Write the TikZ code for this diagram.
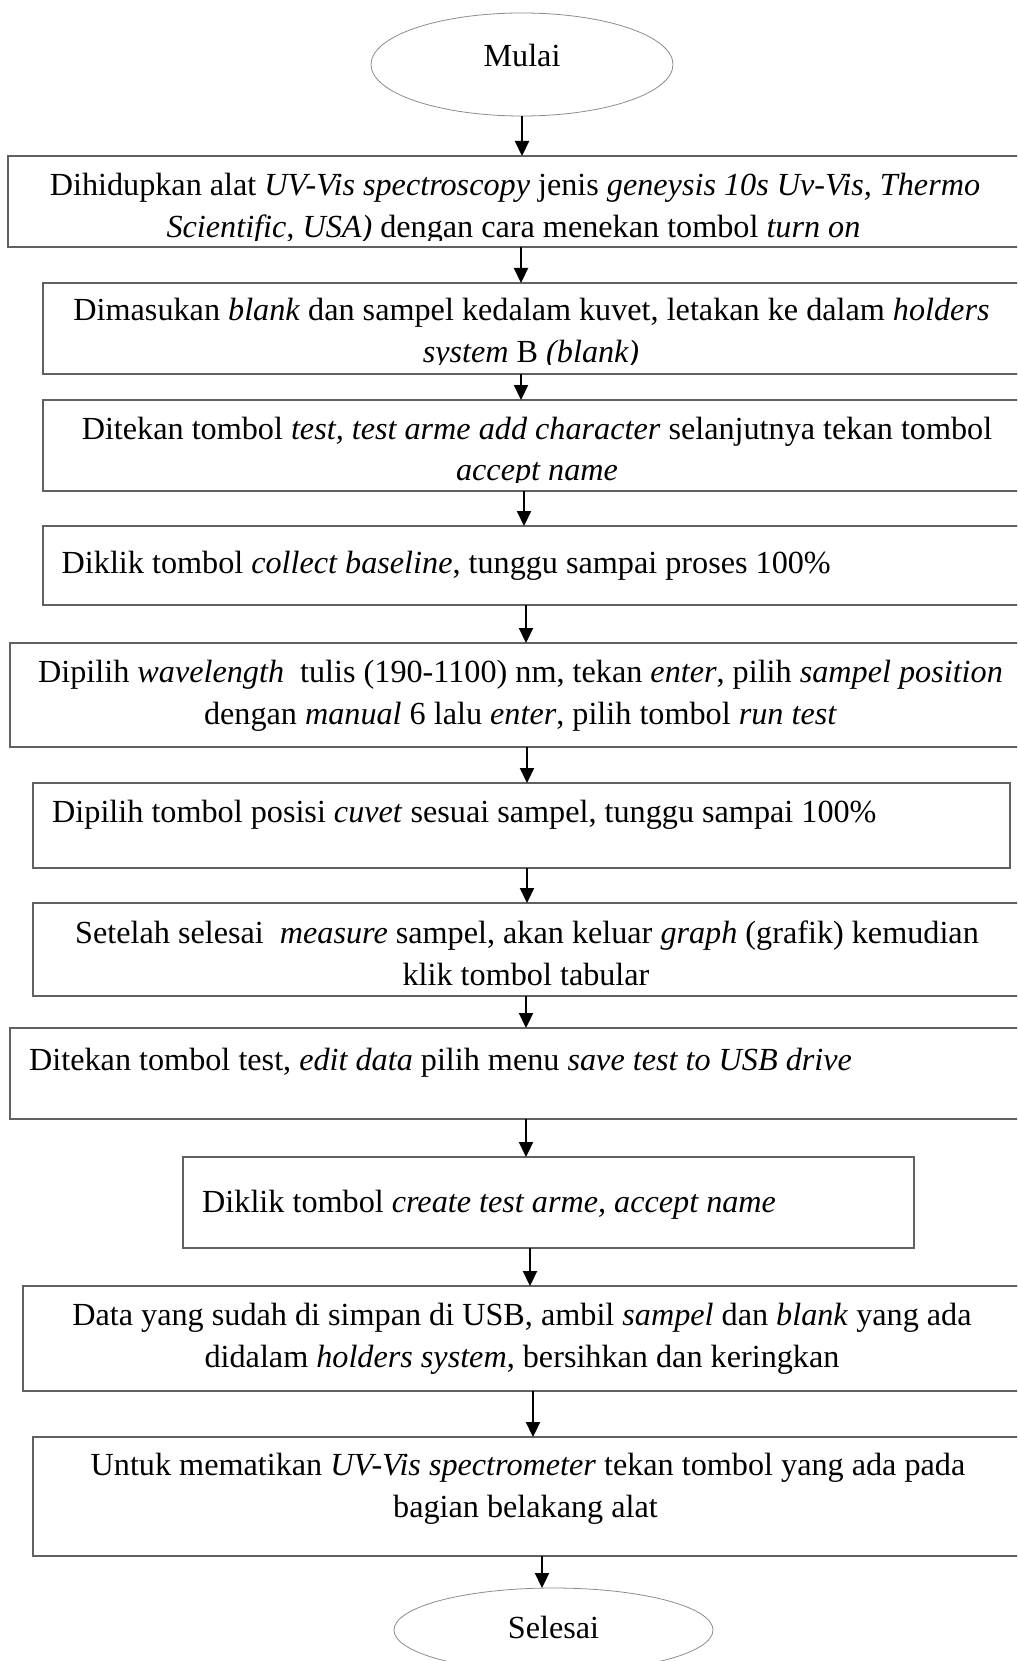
\documentclass[tikz,border=0pt]{standalone}
\usepackage{fontspec}
\setmainfont{Liberation Serif}
\usetikzlibrary{shapes.geometric,arrows.meta}

\tikzset{
  stepbox/.style={draw=black!62, line width=1.1pt, rectangle, inner sep=0pt,
    outer sep=0pt, anchor=north west},
  terminal/.style={draw=black!45, line width=0.8pt, ellipse, fill=white,
    inner sep=0pt, outer sep=0pt, font=\fontsize{32.2}{42}\selectfont},
  txt/.style={inner sep=0pt, anchor=base, font=\fontsize{32.2}{42}\selectfont},
  txtl/.style={txt, anchor=base west},
  flow/.style={draw=black, line width=2.2pt,
    -{Triangle[length=15pt,width=14pt]}},
}

\begin{document}
\begin{tikzpicture}[x=1pt,y=-1pt]
\useasboundingbox (0,0) rectangle (1017,1661);
\clip (0,0) rectangle (1017,1661);

% start / end terminals
\node[terminal, minimum width=302pt, minimum height=103pt,
      text height=25pt, text depth=20pt] (start) at (522,64.5) {Mulai};
\node[terminal, minimum width=319pt, minimum height=84pt,
      text height=25pt, text depth=9pt] (stop) at (553.5,1630) {Selesai};

% process boxes
\node[stepbox, minimum width=1022pt, minimum height=91pt]  (b1)  at (8,156) {};
\node[stepbox, minimum width=987pt,  minimum height=91pt]  (b2)  at (43,283) {};
\node[stepbox, minimum width=987pt,  minimum height=91pt]  (b3)  at (43,400) {};
\node[stepbox, minimum width=987pt,  minimum height=79pt]  (b4)  at (43,526) {};
\node[stepbox, minimum width=1020pt, minimum height=104pt] (b5)  at (10,643) {};
\node[stepbox, minimum width=977pt,  minimum height=85pt]  (b6)  at (33,783) {};
\node[stepbox, minimum width=997pt,  minimum height=93pt]  (b7)  at (33,903) {};
\node[stepbox, minimum width=1020pt, minimum height=91pt]  (b8)  at (10,1028) {};
\node[stepbox, minimum width=731pt,  minimum height=91pt]  (b9)  at (183,1157) {};
\node[stepbox, minimum width=1007pt, minimum height=105pt] (b10) at (23,1286) {};
\node[stepbox, minimum width=997pt,  minimum height=119pt] (b11) at (33,1437) {};

% box texts; the first three boxes cut their text off just below the last line
\begin{scope}
  \clip (b1.north west) rectangle ([yshift=6.5pt]b1.south east);
  \node[txt] (t1a) at (515,195.5) {Dihidupkan alat \textit{UV-Vis spectroscopy} jenis \textit{geneysis 10s Uv-Vis, Thermo}};
  \node[txt] (t1b) at (513.5,238) {\textit{Scientific, USA)} dengan cara menekan tombol \textit{turn on}};
\end{scope}
\begin{scope}
  \clip (b2.north west) rectangle ([yshift=9.5pt]b2.south east);
  \node[txt] (t2a) at (531.5,320) {Dimasukan \textit{blank} dan sampel kedalam kuvet, letakan ke dalam \textit{holders}};
  \node[txt] (t2b) at (531,362) {\textit{system} B \textit{(blank)}};
\end{scope}
\begin{scope}
  \clip (b3.north west) rectangle ([yshift=8.5pt]b3.south east);
  \node[txt] (t3a) at (537,439) {Ditekan tombol \textit{test, test arme add character} selanjutnya tekan tombol};
  \node[txt] (t3b) at (537,480) {\textit{accept name}};
\end{scope}
\node[txtl] (t4) at (61.5,573) {Diklik tombol \textit{collect baseline}, tunggu sampai proses 100\%};
\node[txt] (t5a) at (520.5,682) {Dipilih \textit{wavelength}\ \ tulis (190-1100) nm, tekan \textit{enter}, pilih \textit{sampel position}};
\node[txt] (t5b) at (520.5,724) {dengan \textit{manual} 6 lalu \textit{enter}, pilih tombol \textit{run test}};
\node[txtl] (t6) at (52,822) {Dipilih tombol posisi \textit{cuvet} sesuai sampel, tunggu sampai 100\%};
\node[txt] (t7a) at (527,943) {Setelah selesai\ \ \textit{measure} sampel, akan keluar \textit{graph} (grafik) kemudian};
\node[txt] (t7b) at (526,985) {klik tombol tabular};
\node[txtl] (t8) at (29,1070) {Ditekan tombol test, \textit{edit data} pilih menu \textit{save test to USB drive}};
\node[txtl] (t9) at (202,1212) {Diklik tombol \textit{create test arme, accept name}};
\node[txt] (t10a) at (522,1325) {Data yang sudah di simpan di USB, ambil \textit{sampel} dan \textit{blank} yang ada};
\node[txt] (t10b) at (522,1367) {didalam \textit{holders system}, bersihkan dan keringkan};
\node[txt] (t11a) at (528,1475) {Untuk mematikan \textit{UV-Vis spectrometer} tekan tombol yang ada pada};
\node[txt] (t11b) at (525.5,1517) {bagian belakang alat};

% columns of the connectors
\coordinate (k1) at (521,0);
\coordinate (k2) at (524,0);
\coordinate (k3) at (526,0);
\coordinate (k4) at (527,0);
\coordinate (k5) at (530,0);
\coordinate (k6) at (533,0);
\coordinate (k7) at (542,0);

% connectors
\draw[flow] (start.south) -- (b1.north -| start.south);
\draw[flow] (b1.south -| k1) -- (b2.north -| k1);
\draw[flow] (b2.south -| k1) -- (b3.north -| k1);
\draw[flow] (b3.south -| k2) -- (b4.north -| k2);
\draw[flow] (b4.south -| k3) -- (b5.north -| k3);
\draw[flow] (b5.south -| k4) -- (b6.north -| k4);
\draw[flow] (b6.south -| k4) -- (b7.north -| k4);
\draw[flow] (b7.south -| k3) -- (b8.north -| k3);
\draw[flow] (b8.south -| k3) -- (b9.north -| k3);
\draw[flow] (b9.south -| k5) -- (b10.north -| k5);
\draw[flow] (b10.south -| k6) -- (b11.north -| k6);
\draw[flow] (b11.south -| k7) -- (stop.north -| k7);
\end{tikzpicture}
\end{document}
